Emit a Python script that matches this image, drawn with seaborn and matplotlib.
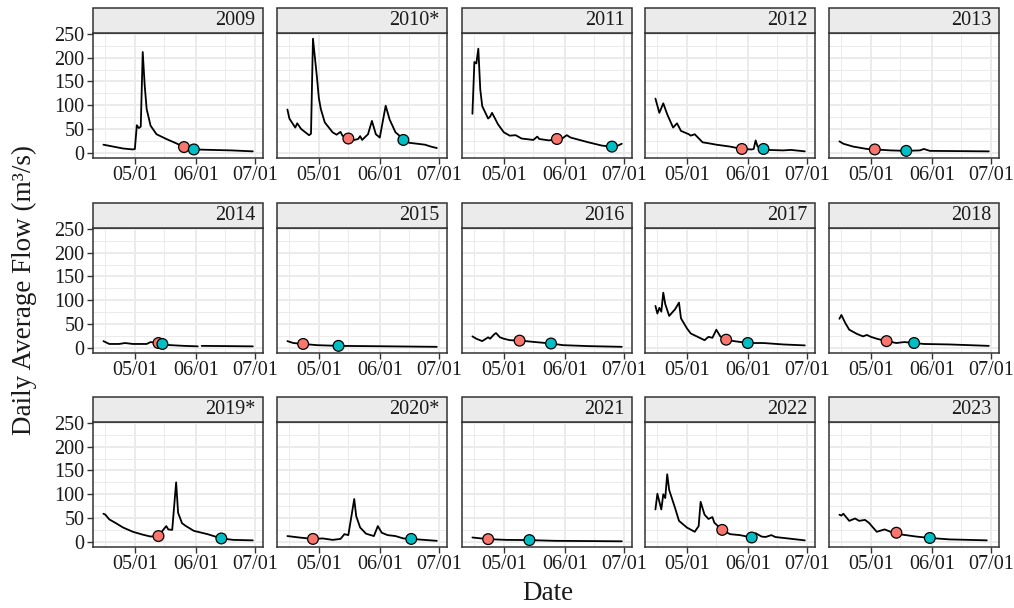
import numpy as np
import pandas as pd
import matplotlib
matplotlib.use("Agg")
import matplotlib.pyplot as plt
import matplotlib.dates as mdates
from matplotlib.patches import Rectangle
import seaborn as sns

# ---------------- data ----------------
years = ["2009", "2010*", "2011", "2012", "2013",
         "2014", "2015", "2016", "2017", "2018",
         "2019*", "2020*", "2021", "2022", "2023"]

d2009 = ["04-15","04-20","04-25","04-30","05-01","05-02","05-03","05-04","05-05","05-06",
         "05-07","05-09","05-12","05-17","05-22","05-26","05-31","06-09","06-19","06-30"]
q2009 = [17,13,9,7,8,58,52,55,212,142,92,57,39,29,20,12,7,6,5,3]

d2010 = ["04-15","04-16","04-19","04-20","04-22","04-26","04-27","04-28","04-30","05-01","05-02",
         "05-04","05-08","05-10","05-12","05-13","05-16","05-18","05-21","05-22","05-23",
         "05-26","05-28","05-30","06-01","06-04","06-06","06-09","06-11","06-13","06-16",
         "06-24","06-27","06-30"]
q2010 = [91,72,53,62,50,37,40,240,160,115,92,64,43,38,44,36,30,26,29,35,27,
         39,67,39,32,99,70,43,36,27,21,17,13,10]

d2011 = ["04-15","04-16","04-17","04-18","04-19","04-20","04-23","04-24","04-25","04-28",
         "05-01","05-04","05-07","05-10","05-16","05-18","05-19","05-24","05-28","05-30",
         "06-02","06-04","06-13","06-20","06-25","06-28","06-30"]
q2011 = [82,191,188,219,133,98,72,76,84,60,43,36,37,30,27,34,29,26,29,28,37,32,22,15,13,15,19]

d2012 = ["04-15","04-17","04-19","04-21","04-24","04-26","04-28","05-02","05-03","05-05",
         "05-09","05-12","05-16","05-23","05-29","06-03","06-04","06-05","06-06","06-09",
         "06-11","06-19","06-23","06-30"]
q2012 = [114,84,104,81,53,62,46,39,36,39,22,20,17,13,8,7,8,26,13,8,6,5,6,3]

d2013 = ["04-15","04-17","04-22","04-29","05-03","05-11","05-19","05-26","05-28","05-31","06-30"]
q2013 = [24,19,13,8,7,5,4,5,8,4,3]

d2014 = ["04-15","04-18","04-23","04-26","04-30","05-07","05-09","05-13","05-15","05-17",
         "05-26","06-02","06-03","06-04","06-30"]
q2014 = [14,8,8,10,8,8,12,10,8,6,4,3,np.nan,4,3]

d2015 = ["04-15","04-18","04-23","04-30","05-11","05-25","06-30"]
q2015 = [14,10,8,5.5,4,3.5,2]

d2016 = ["04-15","04-17","04-20","04-23","04-24","04-26","04-27","04-29","05-01","05-04",
         "05-09","05-12","05-17","05-25","05-31","06-13","06-30"]
q2016 = [24,19,14,22,19,28,31,22,19,16,15,14,12,9,5.5,3.5,2]

d2017 = ["04-15","04-16","04-17","04-18","04-19","04-20","04-22","04-25","04-27","04-28",
         "05-01","05-03","05-06","05-10","05-12","05-14","05-16","05-18","05-21","05-25",
         "06-01","06-09","06-19","06-30"]
q2017 = [88,72,84,76,116,92,67,81,95,62,41,30,24,16,23,21,38,24,17,14,10,10,7,5]

d2018 = ["04-15","04-16","04-18","04-20","04-24","04-27","04-29","05-01","05-04","05-09",
         "05-14","05-18","05-23","05-28","06-10","06-30"]
q2018 = [61,69,52,38,29,24,27,23,19,14,10,12,10,8,7,4]

d2019 = ["04-15","04-16","04-18","04-21","04-25","04-30","05-05","05-09","05-13","05-15",
         "05-17","05-18","05-20","05-22","05-23","05-25","05-27","05-31","06-07","06-14",
         "06-20","06-30"]
q2019 = [59,57,47,40,30,21,15,11,12,23,33,26,25,125,61,39,33,23,16,7,4,3]

d2020 = ["04-15","04-21","04-28","05-03","05-08","05-12","05-14","05-16","05-19","05-20",
         "05-22","05-25","05-29","05-31","06-02","06-05","06-09","06-13","06-17","06-30"]
q2020 = [12,9,6,7,4,6,16,14,90,54,30,17,12,33,19,14,12,7,6,2]

d2021 = ["04-15","04-23","05-02","05-14","05-27","06-30"]
q2021 = [9,5.5,4,3.5,2,1]

d2022 = ["04-15","04-16","04-18","04-19","04-20","04-21","04-22","04-25","04-27","05-01",
         "05-05","05-07","05-08","05-10","05-12","05-14","05-15","05-19","05-23","05-28",
         "06-03","06-05","06-08","06-10","06-13","06-15","06-30"]
q2022 = [68,101,68,100,92,142,109,71,44,30,21,33,84,57,48,52,40,25,16,14,9,18,11,10,14,10,3]

d2023 = ["04-15","04-16","04-17","04-20","04-23","04-25","04-28","04-30","05-04","05-08",
         "05-11","05-14","05-17","05-24","05-31","06-10","06-29"]
q2023 = [57,55,59,44,49,44,46,40,21,26,21,19,15,11,8,5,3]

red_dates = ["05-26","05-16","05-28","05-29","05-03","05-13","04-23","05-09","05-21","05-09",
             "05-13","04-28","04-23","05-19","05-14"]
red_flows = [12,30,29,8,7,10,8,15,17,14,12,6,5.5,25,19]
teal_dates = ["05-31","06-13","06-25","06-09","05-19","05-15","05-11","05-25","06-01","05-23",
              "06-14","06-17","05-14","06-03","05-31"]
teal_flows = [7,27,13,8,4,8,4,9,10,10,7,6,3.5,9,8]

x_ticks = ["05-01", "06-01", "07-01"]
x_minor = ["04-16", "05-16", "06-16"]
y_ticks = [0, 50, 100, 150, 200, 250]

# ---------------- assemble tidy frames ----------------
series_dates = [d2009,d2010,d2011,d2012,d2013,d2014,d2015,d2016,d2017,d2018,d2019,d2020,d2021,d2022,d2023]
series_flows = [q2009,q2010,q2011,q2012,q2013,q2014,q2015,q2016,q2017,q2018,q2019,q2020,q2021,q2022,q2023]

def to_dt(md):
    return pd.to_datetime(["2000-" + s for s in md])

frames = []
for yr, ds, qs in zip(years, series_dates, series_flows):
    f = pd.DataFrame({"year": yr, "date": to_dt(ds), "flow": qs})
    f["seg"] = f["flow"].isna().cumsum()
    frames.append(f.dropna())
lines = pd.concat(frames, ignore_index=True)

pts = pd.concat([
    pd.DataFrame({"year": years, "date": to_dt(red_dates), "flow": red_flows, "kind": "a"}),
    pd.DataFrame({"year": years, "date": to_dt(teal_dates), "flow": teal_flows, "kind": "b"}),
], ignore_index=True)

# ---------------- style ----------------
sns.set_theme(style="white")
plt.rcParams["font.family"] = ["Liberation Serif", "DejaVu Serif"]
plt.rcParams["text.color"] = "#1a1a1a"

W, H = 1014, 608
g = sns.FacetGrid(lines, col="year", col_order=years, col_wrap=5,
                  sharex=False, sharey=True, height=2, aspect=1.0, despine=False)
fig = g.figure
fig.set_size_inches(W / 100, H / 100)

col_left = [93, 277, 462, 645, 829]
row_top = [33, 228, 422]
pw, ph = 170, 125
strip_h = 25

xt = mdates.date2num(to_dt(x_ticks))
xm = mdates.date2num(to_dt(x_minor))
x0 = mdates.date2num(pd.Timestamp("2000-04-15")) - 5.3
x1 = mdates.date2num(pd.Timestamp("2000-06-30")) + 5.2

grid_c = "#EBEBEB"
dark = "#333333"
tick_fs = 14.5

for i, yr in enumerate(years):
    ax = g.axes_dict[yr]
    r, c = divmod(i, 5)
    ax.set_position([col_left[c] / W, 1 - (row_top[r] + ph) / H, pw / W, ph / H])
    sub = lines[lines["year"] == yr]
    sns.lineplot(data=sub, x="date", y="flow", units="seg", estimator=None,
                 color="black", lw=1.3, ax=ax, zorder=3)
    sp = pts[pts["year"] == yr]
    sns.scatterplot(data=sp, x="date", y="flow", hue="kind",
                    palette={"a": "#F8766D", "b": "#00BFC4"}, s=60,
                    edgecolor="black", linewidth=0.9, legend=False, ax=ax, zorder=4)
    ax.set_xlim(x0, x1)
    ax.set_ylim(-11, 252)
    ax.set_xticks(xt)
    ax.set_xticks(xm, minor=True)
    ax.set_yticks(y_ticks)
    ax.set_yticks([25, 75, 125, 175, 225], minor=True)
    ax.xaxis.set_major_formatter(mdates.DateFormatter("%m/%d"))
    ax.grid(True, which="major", color=grid_c, lw=1.4, zorder=0)
    ax.grid(True, which="minor", color=grid_c, lw=0.7, zorder=0)
    ax.set_axisbelow(True)
    ax.set_xlabel("")
    ax.set_ylabel("")
    ax.set_title("")
    for sp_ in ax.spines.values():
        sp_.set_color(dark)
        sp_.set_linewidth(1.1)
    ax.tick_params(axis="x", which="major", length=4, width=1.0, color=dark,
                   labelbottom=True, labelsize=tick_fs, labelcolor="#1a1a1a", pad=2, bottom=True)
    ax.tick_params(axis="both", which="minor", length=0)
    if c == 0:
        ax.tick_params(axis="y", which="major", length=4, width=1.0, color=dark,
                       labelleft=True, labelsize=tick_fs, labelcolor="#1a1a1a", pad=2, left=True)
    else:
        ax.tick_params(axis="y", which="major", length=0, labelleft=False)
    # facet strip
    sh = strip_h / ph
    ax.add_patch(Rectangle((0, 1), 1, sh, transform=ax.transAxes, clip_on=False,
                           facecolor="#EBEBEB", edgecolor=dark, lw=1.1, zorder=5))
    ax.text(0.955, 1 + sh / 2, yr, transform=ax.transAxes, ha="right", va="center",
            fontsize=tick_fs, color="#1a1a1a", zorder=6)

fig.text(24 / W, 1 - 290 / H, "Daily Average Flow (m\u00b3/s)", rotation=90,
         ha="center", va="center", fontsize=19.5)
fig.text(548 / W, 1 - 593 / H, "Date", ha="center", va="center", fontsize=19.5)

fig.savefig("out.png", dpi=100)
